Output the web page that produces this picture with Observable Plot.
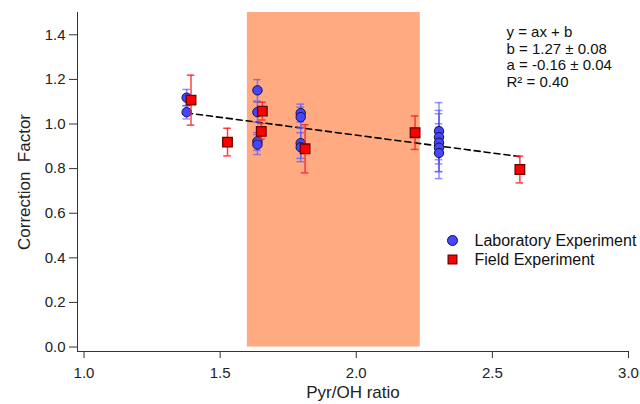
<!DOCTYPE html>
<html><head><meta charset="utf-8">
<script src="https://cdn.jsdelivr.net/npm/d3@7"></script>
<script src="https://cdn.jsdelivr.net/npm/@observablehq/plot@0.6"></script>
<style>
body{margin:0;background:#fff;}
#chart svg{font-family:"Liberation Sans",Arial,sans-serif;}
#chart g[aria-label="x-axis tick label"], #chart g[aria-label="y-axis tick label"]{font-size:15px;fill:#222;}
#chart g[aria-label="x-axis label"], #chart g[aria-label="y-axis label"]{font-size:17px;fill:#222;}
</style></head><body><div id="chart"></div>
<script>
// Laboratory experiment (blue circles)
const labX   = [1.377,1.377,1.637,1.637,1.637,1.637,1.796,1.796,1.796,1.796,2.304,2.304,2.304,2.304,2.304];
const labY   = [1.118,1.053,1.151,1.053,0.922,0.908,1.049,1.031,0.914,0.896,0.968,0.941,0.916,0.894,0.870];
const labErr = [0.037,0.030,0.048,0.045,0.040,0.045,0.040,0.045,0.068,0.065,0.128,0.120,0.130,0.107,0.115];
// Field experiment (red squares)
const fieldX   = [1.393,1.527,1.655,1.651,1.812,2.216,2.601];
const fieldY   = [1.107,0.919,1.058,0.967,0.889,0.961,0.796];
const fieldErr = [0.112,0.062,0.040,0.035,0.108,0.075,0.060];
// Linear fit y = a x + b
const fitA = -0.16, fitB = 1.27;
const fitRange = [1.377, 2.601];
// Shaded Pyr/OH band
const bandX = [1.6, 2.235];
const bandY = [0, 1.5];
// Axes
const xTicks = [1.0, 1.5, 2.0, 2.5, 3.0];
const yTicks = [0.0, 0.2, 0.4, 0.6, 0.8, 1.0, 1.2, 1.4];
const xDomain = [0.976, 3.0];
const yDomain = [-0.02, 1.5];
const eqLines = ["y = ax + b", "b = 1.27 ± 0.08", "a = -0.16 ± 0.04", "R² = 0.40"];
const legendLabels = ["Laboratory Experiment", "Field Experiment"];

const lab = labX.map((x, i) => ({x, y: labY[i], lo: labY[i] - labErr[i], hi: labY[i] + labErr[i]}));
const field = fieldX.map((x, i) => ({x, y: fieldY[i], lo: fieldY[i] - fieldErr[i], hi: fieldY[i] + fieldErr[i]}));
const fit = fitRange.map(x => ({x, y: fitA * x + fitB}));
const band = [{x1: bandX[0], x2: bandX[1], y1: bandY[0], y2: bandY[1]}];
const capW = 0.014;

const chart = Plot.plot({
  width: 640, height: 404,
  marginLeft: 77, marginRight: 12, marginTop: 12, marginBottom: 53,
  style: {fontFamily: '"Liberation Sans", Arial, sans-serif', background: "#fff"},
  x: {domain: xDomain},
  y: {domain: yDomain},
  marks: [
    Plot.rect(band, {x1: "x1", x2: "x2", y1: "y1", y2: "y2", fill: "#FFAA80"}),
    Plot.ruleX([xDomain[0]], {stroke: "#333", strokeWidth: 1}),
    Plot.ruleY([yDomain[0]], {stroke: "#333", strokeWidth: 1}),
    Plot.axisX({ticks: xTicks, tickFormat: d3.format(".1f"), tickSize: 7, tickPadding: 9, stroke: "#333",
      label: "Pyr/OH ratio", labelAnchor: "center", labelArrow: "none", labelOffset: 46}),
    Plot.axisY({ticks: yTicks, tickFormat: d3.format(".1f"), tickSize: 8, tickPadding: 4, stroke: "#333",
      label: "Correction  Factor", labelAnchor: "center", labelArrow: "none", labelOffset: 60}),
    Plot.line(fit, {x: "x", y: "y", stroke: "#000", strokeWidth: 1.6, strokeDasharray: "6,4"}),
    Plot.ruleX(lab, {x: "x", y1: "lo", y2: "hi", stroke: "#5555FF", strokeOpacity: 0.65, strokeWidth: 1.5}),
    Plot.ruleY(lab, {y: "hi", x1: d => d.x - capW, x2: d => d.x + capW, stroke: "#5555FF", strokeOpacity: 0.65, strokeWidth: 1.5}),
    Plot.ruleY(lab, {y: "lo", x1: d => d.x - capW, x2: d => d.x + capW, stroke: "#5555FF", strokeOpacity: 0.65, strokeWidth: 1.5}),
    Plot.dot(lab, {x: "x", y: "y", r: 4.7, fill: "#4646FF", stroke: "#10104A", strokeWidth: 1}),
    Plot.ruleX(field, {x: "x", y1: "lo", y2: "hi", stroke: "#FF2020", strokeOpacity: 0.85, strokeWidth: 1.5}),
    Plot.ruleY(field, {y: "hi", x1: d => d.x - capW, x2: d => d.x + capW, stroke: "#FF2020", strokeOpacity: 0.85, strokeWidth: 1.5}),
    Plot.ruleY(field, {y: "lo", x1: d => d.x - capW, x2: d => d.x + capW, stroke: "#FF2020", strokeOpacity: 0.85, strokeWidth: 1.5}),
    Plot.dot(field, {x: "x", y: "y", symbol: "square", r: 5.4, fill: "#FF0000", stroke: "#6A0000", strokeWidth: 1.3}),
    Plot.text([eqLines.join("\n")], {text: d => d, frameAnchor: "top-left", dx: 429, dy: 13, textAnchor: "start",
      lineAnchor: "top", lineHeight: 1.1, fontSize: 15, fill: "#111"}),
    Plot.dot([legendLabels[0]], {frameAnchor: "top-left", dx: 375, dy: 228, r: 5, fill: "#4646FF", stroke: "#10104A", strokeWidth: 1}),
    Plot.dot([legendLabels[1]], {frameAnchor: "top-left", dx: 375, dy: 247, symbol: "square", r: 4.9, fill: "#FF0000", stroke: "#6A0000", strokeWidth: 1.3}),
    Plot.text([legendLabels[0]], {text: d => d, frameAnchor: "top-left", dx: 397, dy: 228, textAnchor: "start", lineAnchor: "middle", fontSize: 16, fill: "#111"}),
    Plot.text([legendLabels[1]], {text: d => d, frameAnchor: "top-left", dx: 397, dy: 247, textAnchor: "start", lineAnchor: "middle", fontSize: 16, fill: "#111"})
  ]
});
document.getElementById("chart").append(chart);
</script></body></html>
